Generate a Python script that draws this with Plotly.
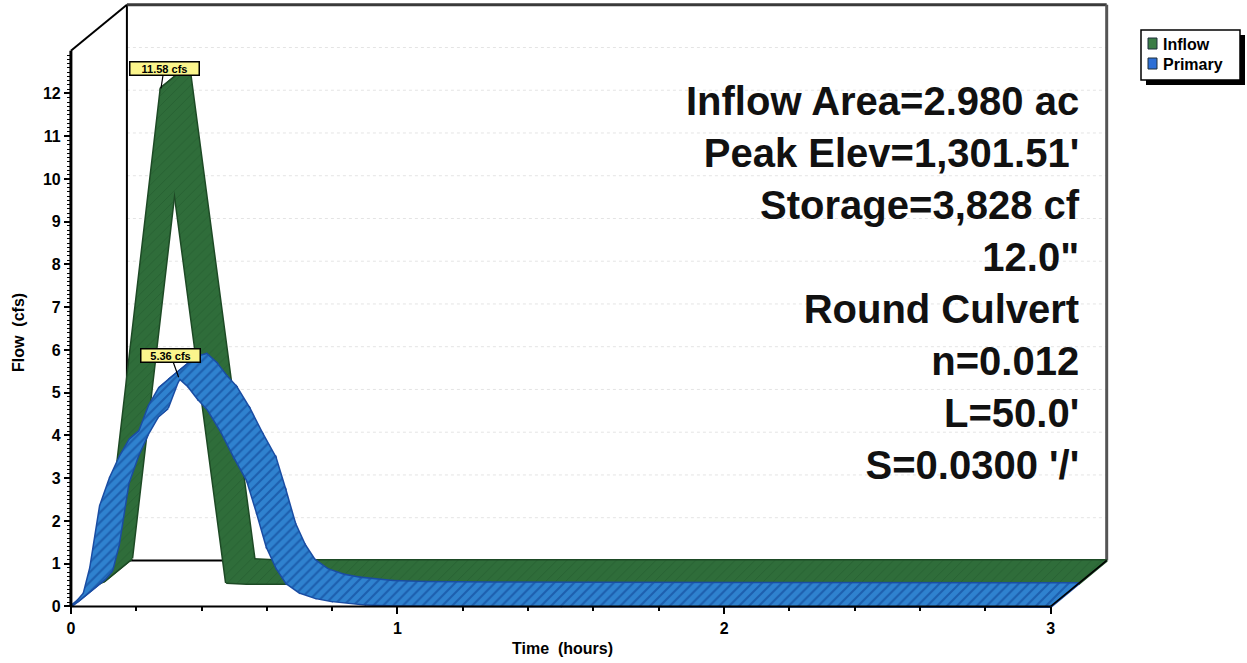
import plotly.graph_objects as go

# ---- hydrograph data (time in hours, flow in cfs) ----
INFLOW_T = [0.0, 0.015, 0.19, 0.39, 0.45, 1.0, 2.0, 3.0]
INFLOW_Q = [0.0, 0.05, 11.58, 0.02, 0.0, 0.0, 0.0, 0.0]

PRIMARY_T = [0.0, 0.02, 0.04, 0.06, 0.09, 0.12, 0.15, 0.18, 0.21, 0.24, 0.27, 0.30,
             0.33, 0.36, 0.39, 0.42, 0.46, 0.50, 0.54, 0.57, 0.60, 0.63, 0.66, 0.70,
             0.75, 0.80, 0.90, 1.0, 1.2, 1.5, 2.0, 3.0]
PRIMARY_Q = [0.0, 0.12, 0.3, 0.9, 2.35, 3.0, 3.5, 3.9, 4.1, 4.7, 5.1, 5.3,
             5.36, 5.15, 4.85, 4.6, 4.1, 3.5, 2.95, 2.2, 1.4, 0.9, 0.55, 0.33,
             0.2, 0.13, 0.05, 0.03, 0.015, 0.01, 0.005, 0.0]

SERIES_NAMES = ["Inflow", "Primary"]
X_TICKS = [0, 1, 2, 3]
Y_TICKS = list(range(0, 13))

INFO_LINES = ["Inflow Area=2.980 ac", "Peak Elev=1,301.51'", "Storage=3,828 cf",
              '12.0"', "Round Culvert", "n=0.012", "L=50.0'", "S=0.0300 '/'"]

# ---- page / plot geometry ----
W, H = 1247, 663
ML, MR, MT, MB = 66, 131, 2, 54
X_RANGE = [-0.015, 3.2]
Y_RANGE = [-0.06, 14.14]
PW, PH = W - ML - MR, H - MT - MB
SX = PW / (X_RANGE[1] - X_RANGE[0])
SY = PH / (Y_RANGE[1] - Y_RANGE[0])

# oblique depth of the 3-D box, in axis units
DX, DY = 0.1715, 1.076
X_END, Y_TOP = 3.0, 13.0

GREEN, GREEN_DARK, GREEN_EDGE = "#2f6d3a", "#275f31", "#1d4a25"
BLUE, BLUE_DARK, BLUE_EDGE = "#2f82cf", "#1d5fae", "#1a4da3"
FONT = "Liberation Sans, Arial, sans-serif"


def px_x(t):
    return ML + (t - X_RANGE[0]) * SX


def px_y(v):
    return MT + PH - (v - Y_RANGE[0]) * SY


def paper_x(p):
    return (p - ML) / PW


def paper_y(p):
    return (MT + PH - p) / PH


def ribbon(ts, qs, d0, d1):
    """Quads swept from the front edge (depth d0) to the back edge (depth d1)."""
    xs, ys = [], []
    for i in range(len(ts) - 1):
        pts = [(ts[i] + d0 * DX, qs[i] + d0 * DY),
               (ts[i + 1] + d0 * DX, qs[i + 1] + d0 * DY),
               (ts[i + 1] + d1 * DX, qs[i + 1] + d1 * DY),
               (ts[i] + d1 * DX, qs[i] + d1 * DY)]
        area = 0.0
        for j in range(4):
            x1, y1 = pts[j]
            x2, y2 = pts[(j + 1) % 4]
            area += x1 * SX * y2 * SY - x2 * SX * y1 * SY
        if area < 0:
            pts.reverse()
        for x, y in pts + [pts[0]]:
            xs.append(x)
            ys.append(y)
        xs.append(None)
        ys.append(None)
    return xs, ys


fig = go.Figure()

series = [
    (INFLOW_T, INFLOW_Q, 0.5, 1.0, GREEN, GREEN_DARK, GREEN_EDGE, 0.12),
    (PRIMARY_T, PRIMARY_Q, 0.0, 0.5, BLUE, BLUE_DARK, BLUE_EDGE, 0.3),
]
for ts, qs, d0, d1, col, dark, edge, sol in series:
    rx, ry = ribbon(ts, qs, d0, d1)
    pattern = dict(shape="/", bgcolor=col, fgcolor=dark, size=7, solidity=sol,
                   fillmode="replace")
    # outlined pass, then a borderless pass that hides the inner seams
    fig.add_trace(go.Scatter(x=rx, y=ry, mode="lines", fill="toself", fillcolor=col,
                             fillpattern=pattern, line=dict(color=edge, width=3),
                             hoverinfo="skip", showlegend=False))
    fig.add_trace(go.Scatter(x=rx, y=ry, mode="lines", fill="toself", fillcolor=col,
                             fillpattern=pattern, line=dict(color=col, width=0),
                             hoverinfo="skip", showlegend=False))

shapes = []


def seg(x0, y0, x1, y1, color="black", width=2, layer="above", dash="solid"):
    shapes.append(dict(type="line", xref="x", yref="y", x0=x0, y0=y0, x1=x1, y1=y1,
                       layer=layer, line=dict(color=color, width=width, dash=dash)))


# faint guide lines on the back wall
for v in Y_TICKS[1:]:
    seg(DX, v + DY, X_END + DX, v + DY, color="#e4e4e4", width=1, layer="below", dash="dot")

# back wall frame
seg(DX, DY, X_END + DX, DY, width=2, layer="below")
seg(DX, DY, DX, Y_TOP + DY, width=2, layer="below")
seg(DX, Y_TOP + DY, X_END + DX, Y_TOP + DY, color="#3a3a3a", width=3, layer="below")
seg(X_END + DX, DY, X_END + DX, Y_TOP + DY, color="#555555", width=3, layer="below")
# front axes and side edges
seg(0, 0, 0, Y_TOP, width=3)
seg(0, Y_TOP, DX, Y_TOP + DY, width=2)
seg(0, 0, X_END, 0, width=2)
seg(X_END, 0, X_END + DX, DY, width=1.5)

# legend box with drop shadow
LEG = (1141, 30, 1240, 80)
shapes.append(dict(type="rect", xref="paper", yref="paper",
                   x0=paper_x(LEG[0] + 5), x1=paper_x(LEG[2] + 5),
                   y0=paper_y(LEG[1] + 5), y1=paper_y(LEG[3] + 5),
                   fillcolor="black", line=dict(width=0)))
shapes.append(dict(type="rect", xref="paper", yref="paper",
                   x0=paper_x(LEG[0]), x1=paper_x(LEG[2]),
                   y0=paper_y(LEG[1]), y1=paper_y(LEG[3]),
                   fillcolor="white", line=dict(color="black", width=1.5)))
legend_cols = ["#3b7d46", "#2d6fd6"]
annotations = []
for i, (name, c) in enumerate(zip(SERIES_NAMES, legend_cols)):
    cy = 44 + i * 20
    shapes.append(dict(type="rect", xref="paper", yref="paper",
                       x0=paper_x(1148), x1=paper_x(1157),
                       y0=paper_y(cy - 6), y1=paper_y(cy + 5),
                       fillcolor=c, line=dict(color="#1f2f3a", width=1)))
    annotations.append(dict(xref="paper", yref="paper", x=paper_x(1161), y=paper_y(cy),
                            xanchor="left", yanchor="middle", showarrow=False,
                            text=name, font=dict(family=FONT, size=16, color="black",
                                                 weight="bold")))

# peak flow call-outs
peaks = [
    (INFLOW_T, INFLOW_Q, 0.5, (164, 69), 72, 14),
    (PRIMARY_T, PRIMARY_Q, 0.0, (171, 356), 62, 14),
]
for ts, qs, d0, (bx, by), bw, bh in peaks:
    qmax = max(qs)
    tpk = ts[qs.index(qmax)]
    xp, yp = tpk + d0 * DX, qmax + d0 * DY
    annotations.append(dict(x=xp, y=yp, xref="x", yref="y", text=f"{qmax:.2f} cfs",
                            showarrow=True, arrowhead=0, arrowwidth=1.2, arrowcolor="black",
                            ax=bx - px_x(xp), ay=by - px_y(yp),
                            bgcolor="#fbf58c", bordercolor="black", borderwidth=1.5,
                            width=bw - 6, height=bh - 4, borderpad=1,
                            font=dict(family=FONT, size=11, color="black", weight="bold")))

# pond summary block
annotations.append(dict(xref="paper", yref="paper", x=paper_x(1082), y=paper_y(283),
                        xanchor="right", yanchor="middle", align="right", showarrow=False,
                        text="<br>".join(INFO_LINES),
                        font=dict(family=FONT, size=40, color="#111111", weight="bold")))

# axis titles
annotations.append(dict(xref="paper", yref="paper", x=paper_x(18), y=paper_y(333),
                        xanchor="center", yanchor="middle",
                        textangle=-90, showarrow=False, text="Flow\u00a0 (cfs)",
                        font=dict(family=FONT, size=16, color="black", weight="bold")))
annotations.append(dict(xref="paper", yref="paper", x=paper_x(562), y=paper_y(648),
                        xanchor="center", yanchor="middle",
                        showarrow=False, text="Time\u00a0 (hours)",
                        font=dict(family=FONT, size=16, color="black", weight="bold")))

tick_font = dict(family=FONT, size=16, color="black", weight="bold")
y_minor = [round(i / 10, 1) for i in range(1, 130) if i % 10]
x_minor = [round(i / 5, 1) for i in range(1, 15) if i % 5]

fig.update_layout(
    width=W, height=H,
    margin=dict(l=ML, r=MR, t=MT, b=MB, pad=0),
    paper_bgcolor="white", plot_bgcolor="white",
    showlegend=False,
    shapes=shapes, annotations=annotations,
    xaxis=dict(range=X_RANGE, showgrid=False, zeroline=False, showline=False,
               anchor="free", position=(0 - Y_RANGE[0]) / (Y_RANGE[1] - Y_RANGE[0]),
               tickmode="array", tickvals=X_TICKS, ticktext=[str(v) for v in X_TICKS],
               ticks="outside", ticklen=7, tickwidth=2, tickcolor="black",
               tickfont=tick_font,
               minor=dict(tickmode="array", tickvals=x_minor, ticks="outside",
                          ticklen=4, tickwidth=1.5, tickcolor="black")),
    yaxis=dict(range=Y_RANGE, showgrid=False, zeroline=False, showline=False,
               anchor="free", position=(0 - X_RANGE[0]) / (X_RANGE[1] - X_RANGE[0]),
               tickmode="array", tickvals=Y_TICKS, ticktext=[str(v) for v in Y_TICKS],
               ticks="outside", ticklen=7, tickwidth=2, tickcolor="black",
               tickfont=tick_font,
               minor=dict(tickmode="array", tickvals=y_minor, ticks="outside",
                          ticklen=4, tickwidth=1, tickcolor="black")),
)

fig.write_html("out.html")
